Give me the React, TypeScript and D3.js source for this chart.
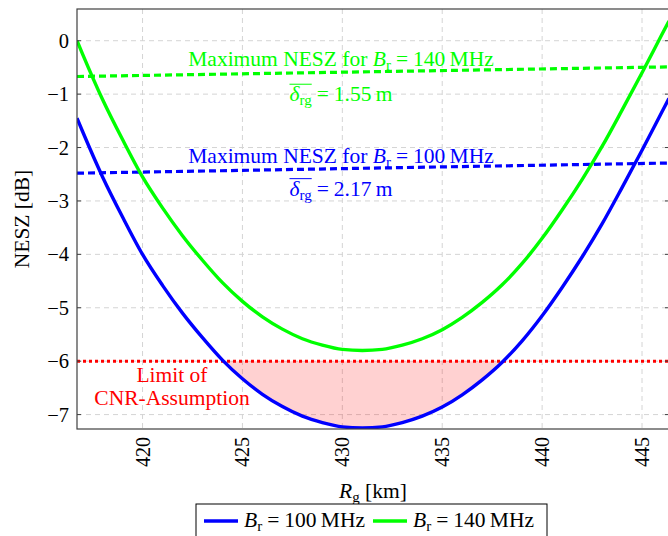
import React, { useEffect, useRef } from 'react';
import * as d3 from 'd3';

// ground range [km] and NESZ [dB]
const rg = [416.72, 417, 418, 419, 420, 421, 422, 423, 424, 425, 426, 427, 428, 429, 430, 431, 432, 433, 434, 435, 436, 437, 438, 439, 440, 441, 442, 443, 444, 445, 446, 446.35];
const nesz100 = [-1.45, -1.7, -2.55, -3.3, -4.0, -4.58, -5.1, -5.56, -5.98, -6.33, -6.62, -6.85, -7.03, -7.15, -7.23, -7.25, -7.23, -7.15, -7.03, -6.86, -6.63, -6.35, -6.02, -5.62, -5.15, -4.62, -4.05, -3.43, -2.75, -2.05, -1.33, -1.08];
const nesz140 = [0.0, -0.25, -1.1, -1.85, -2.55, -3.13, -3.65, -4.11, -4.53, -4.88, -5.17, -5.4, -5.58, -5.7, -5.78, -5.8, -5.78, -5.7, -5.58, -5.41, -5.18, -4.9, -4.57, -4.17, -3.7, -3.17, -2.6, -1.98, -1.3, -0.6, 0.12, 0.37];

// maximum NESZ lines (value at left and right edge)
const maxRg = [416.72, 446.35];
const maxNesz140 = [-0.67, -0.49];
const maxNesz100 = [-2.48, -2.29];
const cnrLimit = -6;

const xTicks = [420, 425, 430, 435, 440, 445];
const yTicks = [0, -1, -2, -3, -4, -5, -6, -7];

const FONT = '"Liberation Serif", "DejaVu Serif", serif';
const FS = 21.5;

const App = () => {
  const svgRef = useRef<SVGSVGElement | null>(null);

  useEffect(() => {
    document.body.style.margin = '0';
    const svg = d3.select(svgRef.current);
    svg.selectAll('*').remove();

    const left = 77, right = 669, top = 9, bottom = 429;
    const x = d3.scaleLinear().domain([416.72, 446.35]).range([left, right]);
    const y = d3.scaleLinear().domain([-7.27, 0.594]).range([bottom, top]);

    svg.append('defs').append('clipPath').attr('id', 'plotclip')
      .append('rect').attr('x', left).attr('y', top).attr('width', right - left).attr('height', bottom - top);

    // grid
    svg.append('g').selectAll('line').data(xTicks).join('line')
      .attr('x1', d => x(d)).attr('x2', d => x(d)).attr('y1', top).attr('y2', bottom)
      .attr('stroke', '#d4d4d4').attr('stroke-width', 1).attr('stroke-dasharray', '5,4');
    svg.append('g').selectAll('line').data(yTicks).join('line')
      .attr('x1', left).attr('x2', right).attr('y1', d => y(d)).attr('y2', d => y(d))
      .attr('stroke', '#d4d4d4').attr('stroke-width', 1).attr('stroke-dasharray', '5,4');

    const plot = svg.append('g').attr('clip-path', 'url(#plotclip)');
    const pts100 = rg.map((r, i) => [r, nesz100[i]] as [number, number]);
    const pts140 = rg.map((r, i) => [r, nesz140[i]] as [number, number]);

    // region below CNR limit
    const area = d3.area<[number, number]>()
      .x(d => x(d[0])).y0(y(cnrLimit)).y1(d => y(Math.min(d[1], cnrLimit)))
      .curve(d3.curveMonotoneX);
    plot.append('path').attr('d', area(pts100)).attr('fill', '#ff0000').attr('fill-opacity', 0.18);

    const line = d3.line<[number, number]>().x(d => x(d[0])).y(d => y(d[1])).curve(d3.curveMonotoneX);

    plot.append('path').attr('d', line(maxRg.map((r, i) => [r, maxNesz140[i]] as [number, number])))
      .attr('fill', 'none').attr('stroke', '#00ff00').attr('stroke-width', 3.2).attr('stroke-dasharray', '7,4');
    plot.append('path').attr('d', line(maxRg.map((r, i) => [r, maxNesz100[i]] as [number, number])))
      .attr('fill', 'none').attr('stroke', '#0000ff').attr('stroke-width', 3.2).attr('stroke-dasharray', '7,4');
    plot.append('line').attr('x1', left).attr('x2', right).attr('y1', y(cnrLimit)).attr('y2', y(cnrLimit))
      .attr('stroke', '#ff0000').attr('stroke-width', 3).attr('stroke-dasharray', '3,3');

    plot.append('path').attr('d', line(pts100)).attr('fill', 'none').attr('stroke', '#0000ff').attr('stroke-width', 3.4);
    plot.append('path').attr('d', line(pts140)).attr('fill', 'none').attr('stroke', '#00ff00').attr('stroke-width', 3.4);

    // axes frame
    svg.append('rect').attr('x', left).attr('y', top).attr('width', right - left).attr('height', bottom - top)
      .attr('fill', 'none').attr('stroke', '#404040').attr('stroke-width', 1.2);
    svg.append('g').selectAll('line').data(yTicks).join('line')
      .attr('x1', left).attr('x2', left + 4).attr('y1', d => y(d)).attr('y2', d => y(d))
      .attr('stroke', '#404040').attr('stroke-width', 1);
    svg.append('g').selectAll('line').data(yTicks).join('line')
      .attr('x1', right - 4).attr('x2', right).attr('y1', d => y(d)).attr('y2', d => y(d))
      .attr('stroke', '#404040').attr('stroke-width', 1);

    // tick labels
    svg.append('g').selectAll('text').data(yTicks).join('text')
      .attr('x', left - 8).attr('y', d => y(d) + 7).attr('text-anchor', 'end')
      .attr('font-family', FONT).attr('font-size', 20.5).attr('fill', '#000')
      .text(d => (d < 0 ? '\u2212' + Math.abs(d) : String(d)));
    svg.append('g').selectAll('text').data(xTicks).join('text')
      .attr('transform', d => `translate(${x(d) + 7},${bottom + 8}) rotate(-90)`)
      .attr('text-anchor', 'end')
      .attr('font-family', FONT).attr('font-size', 20).attr('fill', '#000')
      .text(d => String(d));

    // axis titles
    const xl = svg.append('text').attr('x', (left + right) / 2).attr('y', 498).attr('text-anchor', 'middle')
      .attr('font-family', FONT).attr('font-size', FS).attr('fill', '#000');
    xl.append('tspan').attr('font-style', 'italic').text('R');
    xl.append('tspan').attr('font-size', 15).attr('dy', 4).text('g');
    xl.append('tspan').attr('dy', -4).text('\u00a0[km]');

    svg.append('text').attr('transform', `translate(29,${(top + bottom) / 2}) rotate(-90)`)
      .attr('text-anchor', 'middle').attr('font-family', FONT).attr('font-size', FS).attr('fill', '#000')
      .text('NESZ [dB]');

    // text like "B_r = 100 MHz"
    const brText = (t: any, bw: string) => {
      t.append('tspan').attr('font-style', 'italic').text('B');
      t.append('tspan').attr('font-size', 15).attr('dy', 4).text('r');
      t.append('tspan').attr('dy', -4).attr('dx', 5).text('=');
      t.append('tspan').attr('dx', 5).text(`${bw}\u2009MHz`);
    };

    // annotations
    const cx = 341;
    const addTitle = (yy: number, color: string, bw: string) => {
      const t = svg.append('text').attr('x', cx).attr('y', yy).attr('text-anchor', 'middle')
        .attr('font-family', FONT).attr('font-size', FS).attr('fill', color);
      t.append('tspan').text('Maximum NESZ for ');
      brText(t, bw);
    };
    const addDelta = (yy: number, color: string, val: string) => {
      const t = svg.append('text').attr('x', cx).attr('y', yy).attr('text-anchor', 'middle')
        .attr('font-family', FONT).attr('font-size', FS).attr('fill', color);
      t.append('tspan').attr('font-style', 'italic').text('\u03b4');
      t.append('tspan').attr('font-size', 15).attr('dy', 4).text('rg');
      t.append('tspan').attr('dy', -4).attr('dx', 5).text('=');
      t.append('tspan').attr('dx', 5).text(`${val}\u2009m`);
      const node = t.node() as SVGTextElement;
      try {
        const a = node.getExtentOfChar(0);
        const b = node.getExtentOfChar(2);
        const ly = yy - 17;
        svg.append('line').attr('x1', a.x).attr('x2', b.x + b.width).attr('y1', ly).attr('y2', ly)
          .attr('stroke', color).attr('stroke-width', 1);
      } catch (e) { /* ignore */ }
    };
    const frac = (x.invert(cx) - maxRg[0]) / (maxRg[1] - maxRg[0]);
    const g140 = y(maxNesz140[0] + (maxNesz140[1] - maxNesz140[0]) * frac);
    const g100 = y(maxNesz100[0] + (maxNesz100[1] - maxNesz100[0]) * frac);
    addTitle(g140 - 6, '#00ff00', '140');
    addDelta(g140 + 29, '#00ff00', '1.55');
    addTitle(g100 - 6, '#0000ff', '100');
    addDelta(g100 + 27, '#0000ff', '2.17');

    svg.append('text').attr('x', 172).attr('y', y(cnrLimit) + 21).attr('text-anchor', 'middle')
      .attr('font-family', FONT).attr('font-size', FS).attr('fill', '#ff0000').text('Limit of');
    svg.append('text').attr('x', 172).attr('y', y(cnrLimit) + 44).attr('text-anchor', 'middle')
      .attr('font-family', FONT).attr('font-size', FS).attr('fill', '#ff0000').text('CNR-Assumption');

    // legend
    const lg = svg.append('g');
    lg.append('rect').attr('x', 196).attr('y', 504).attr('width', 351).attr('height', 40)
      .attr('fill', '#fff').attr('stroke', '#000').attr('stroke-width', 1);
    const entries = [
      { color: '#0000ff', bw: '100', x0: 204 },
      { color: '#00ff00', bw: '140', x0: 373 },
    ];
    entries.forEach(e => {
      lg.append('line').attr('x1', e.x0).attr('x2', e.x0 + 34).attr('y1', 521).attr('y2', 521)
        .attr('stroke', e.color).attr('stroke-width', 3.4);
      const t = lg.append('text').attr('x', e.x0 + 40).attr('y', 527)
        .attr('font-family', FONT).attr('font-size', FS).attr('fill', '#000');
      brText(t, e.bw);
    });
  }, []);

  return <svg ref={svgRef} width={668} height={536} style={{ display: 'block' }} />;
};

export default App;
